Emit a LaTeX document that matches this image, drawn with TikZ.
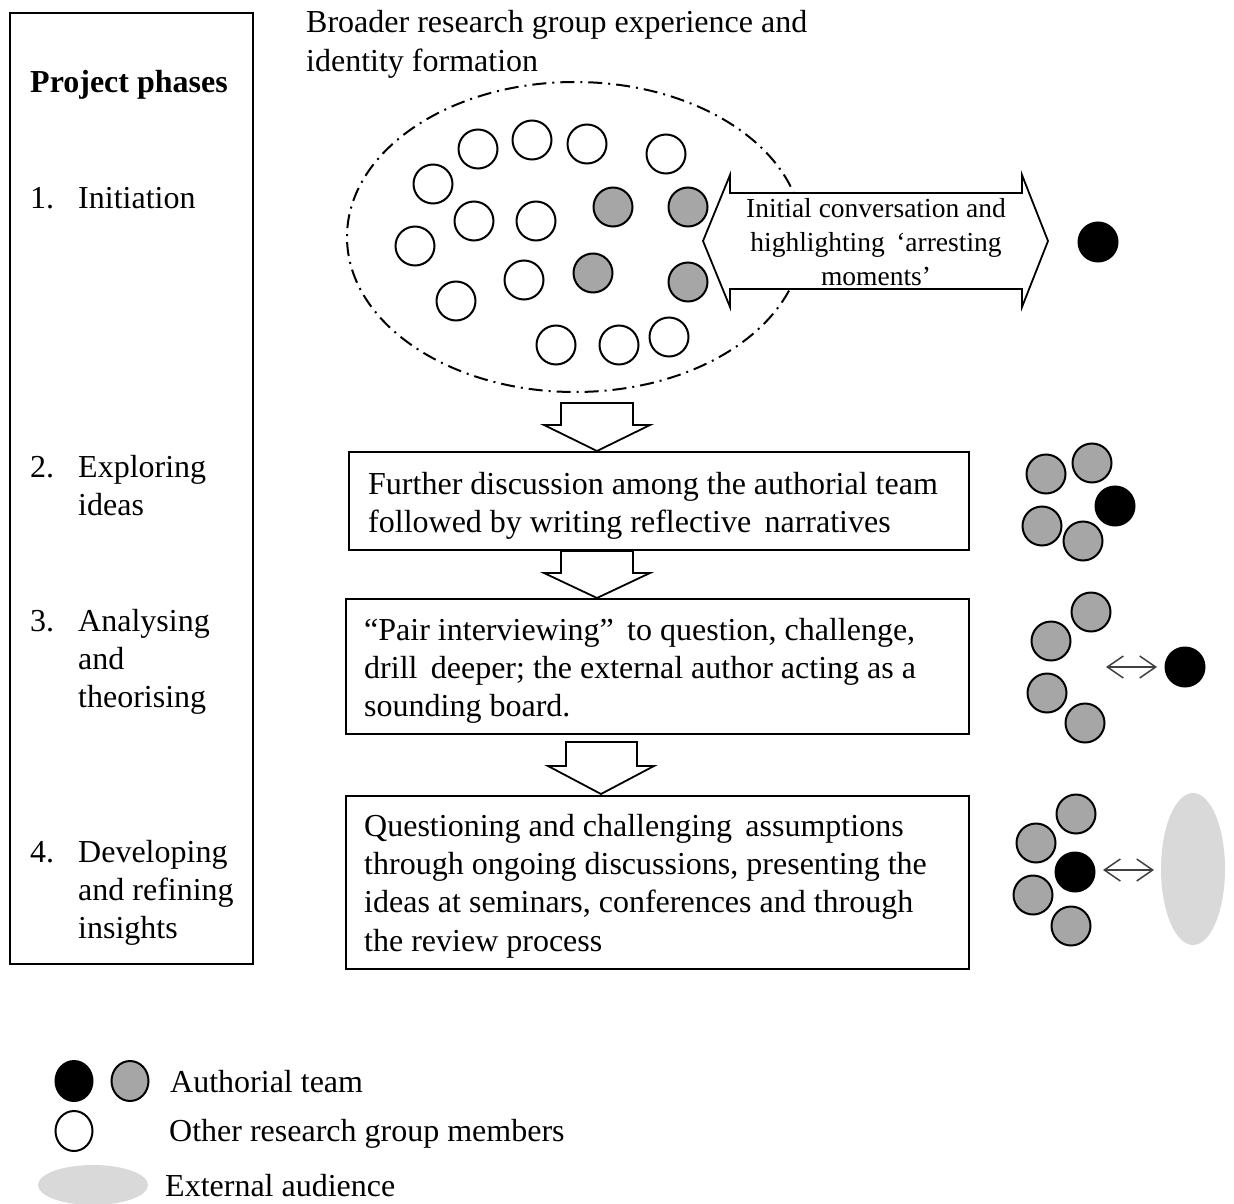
\documentclass[tikz,border=0pt]{standalone}
\usepackage{fontspec}
\setmainfont{Liberation Serif}
\usetikzlibrary{shapes.geometric,arrows.meta}
\definecolor{midgray}{HTML}{A6A6A6}
\definecolor{lightgray2}{HTML}{D9D9D9}
\definecolor{arrowgray}{HTML}{404040}
\begin{document}
\begin{tikzpicture}[x=1pt,y=-1pt,
  txt/.style={anchor=base west,inner sep=0pt,font=\fontsize{32}{38}\selectfont},
  smalltxt/.style={anchor=base,inner sep=0pt,font=\fontsize{27.5}{34}\selectfont},
  member/.style={circle,draw=black,line width=2pt,minimum size=39pt,inner sep=0pt},
  whitec/.style={member,fill=white},
  grayc/.style={member,fill=midgray},
  blackc/.style={member,fill=black},
  stagebox/.style={draw=black,line width=1.6pt,anchor=north west,inner sep=0pt},
  blockarrow/.style={draw=black,line width=1.8pt,fill=white,line join=miter},
  smallarrow/.style={draw=arrowgray,line width=1.5pt,{Straight Barb[length=16pt,width=22pt,line width=1.5pt]}-{Straight Barb[length=16pt,width=22pt,line width=1.5pt]}},
  audience/.style={ellipse,fill=lightgray2,draw=none,inner sep=0pt}
]
\useasboundingbox (0,0) rectangle (1234,1204);

% left column box
\node[stagebox,minimum width=243pt,minimum height=951pt] (phases) at (9,12) {};
\node[txt,font=\fontsize{32}{38}\selectfont\bfseries] (ph) at (30,93) {Project phases};
\node[txt] (n1) at (30,208) {1.};
\node[txt] (p1a) at (78,208) {Initiation};
\node[txt] (n2) at (30,477) {2.};
\node[txt] (p2a) at (78,477) {Exploring};
\node[txt] (p2b) at (78,515) {ideas};
\node[txt] (n3) at (30,631) {3.};
\node[txt] (p3a) at (78,631) {Analysing};
\node[txt] (p3b) at (78,669) {and};
\node[txt] (p3c) at (78,707) {theorising};
\node[txt] (n4) at (30,862) {4.};
\node[txt] (p4a) at (78,862) {Developing};
\node[txt] (p4b) at (78,900) {and refining};
\node[txt] (p4c) at (78,938) {insights};

% top title
\node[txt] (t1) at (306,33) {Broader research group experience and};
\node[txt] (t2) at (306,72) {identity formation};

% dash-dot group ellipse
\draw[line width=2pt,dash pattern=on 14pt off 6pt on 2pt off 6pt] (575,237) ellipse [x radius=228, y radius=155];

% group members
\node[whitec] (w1) at (478,149) {};
\node[whitec] (w2) at (532,140) {};
\node[whitec] (w3) at (587,144) {};
\node[whitec] (w4) at (666,154) {};
\node[whitec] (w5) at (433,184) {};
\node[whitec] (w6) at (474,221) {};
\node[whitec] (w7) at (536,221) {};
\node[whitec] (w8) at (415,246) {};
\node[whitec] (w9) at (524,280) {};
\node[whitec] (w10) at (456,301) {};
\node[whitec] (w11) at (556,345) {};
\node[whitec] (w12) at (619,345) {};
\node[whitec] (w13) at (669,337) {};
\node[grayc] (g1) at (613,207) {};
\node[grayc] (g2) at (688,207) {};
\node[grayc] (g3) at (593,273) {};
\node[grayc] (g4) at (688,282) {};

% double block arrow
\draw[blockarrow] (703,241) -- (730,175) -- (730,193) -- (1022,193) -- (1022,175)
  -- (1048,241) -- (1022,307) -- (1022,289) -- (730,289) -- (730,307) -- cycle;
\node[smalltxt] (a1) at (876,217) {Initial conversation and};
\node[smalltxt] (a2) at (876,251) {highlighting \,‘arresting};
\node[smalltxt] (a3) at (876,285) {moments’};
\node[blackc] (b0) at (1098,242) {};

% stage boxes
\node[stagebox,minimum width=620pt,minimum height=98pt] (box1) at (348,451) {};
\node[txt] (b1a) at (368,494) {Further discussion among the authorial team};
\node[txt] (b1b) at (368,532) {followed by writing reflective \,narratives};

\node[stagebox,minimum width=623pt,minimum height=135pt] (box2) at (345,598) {};
\node[txt] (b2a) at (364,640) {“Pair interviewing” \,to question, challenge,};
\node[txt] (b2b) at (364,678) {drill \,deeper; the external author acting as a};
\node[txt] (b2c) at (364,716) {sounding board.};

\node[stagebox,minimum width=623pt,minimum height=173pt] (box3) at (345,795) {};
\node[txt] (b3a) at (364,836) {Questioning and challenging \,assumptions};
\node[txt] (b3b) at (364,874) {through ongoing discussions, presenting the};
\node[txt] (b3c) at (364,912) {ideas at seminars, conferences and through};
\node[txt] (b3d) at (364,951) {the review process};

% down block arrows
\draw[blockarrow] (561,403) -- (633,403) -- (633,425) -- (650,425) -- (597,451)
  -- (544,425) -- (561,425) -- cycle;
\draw[blockarrow] (561,551) -- (633,551) -- (633,573) -- (650,573) -- (597,598)
  -- (544,573) -- (561,573) -- cycle;
\draw[blockarrow] (566,742) -- (637,742) -- (637,766) -- (654,766) -- (601,794)
  -- (548,766) -- (566,766) -- cycle;

% cluster 1
\node[grayc] (c1a) at (1046,474) {};
\node[grayc] (c1b) at (1092,463) {};
\node[blackc] (c1c) at (1115,506) {};
\node[grayc] (c1d) at (1042,526) {};
\node[grayc] (c1e) at (1083,541) {};

% cluster 2
\node[grayc] (c2a) at (1091,612) {};
\node[grayc] (c2b) at (1051,641) {};
\node[grayc] (c2c) at (1047,693) {};
\node[grayc] (c2d) at (1085,723) {};
\node[blackc] (c2e) at (1185,667) {};
\coordinate (e2l) at (1106,667);
\coordinate (e2r) at (1157,667);
\draw[smallarrow] (e2l) -- (e2r);

% cluster 3
\node[grayc] (c3a) at (1076,814) {};
\node[grayc] (c3b) at (1036,843) {};
\node[blackc] (c3c) at (1075,872) {};
\node[grayc] (c3d) at (1033,895) {};
\node[grayc] (c3e) at (1071,926) {};
\node[audience,minimum width=64pt,minimum height=152pt] (aud) at (1193,869) {};
\coordinate (e3l) at (1103,870);
\coordinate (e3r) at (1154,870);
\draw[smallarrow] (e3l) -- (e3r);

% legend
\node[ellipse,fill=black,draw=black,line width=2pt,minimum width=37pt,minimum height=40pt,inner sep=0pt] (lb) at (74,1081) {};
\node[ellipse,fill=midgray,draw=black,line width=2pt,minimum width=37pt,minimum height=40pt,inner sep=0pt] (lg) at (130,1081) {};
\node[txt] (l1) at (170,1092) {Authorial team};
\node[ellipse,fill=white,draw=black,line width=2pt,minimum width=37pt,minimum height=40pt,inner sep=0pt] (lw) at (74,1131) {};
\node[txt] (l2) at (169,1141) {Other research group members};
\node[audience,minimum width=110pt,minimum height=40pt] (la) at (93,1185) {};
\node[txt] (l3) at (165,1196) {External audience};
\end{tikzpicture}
\end{document}
